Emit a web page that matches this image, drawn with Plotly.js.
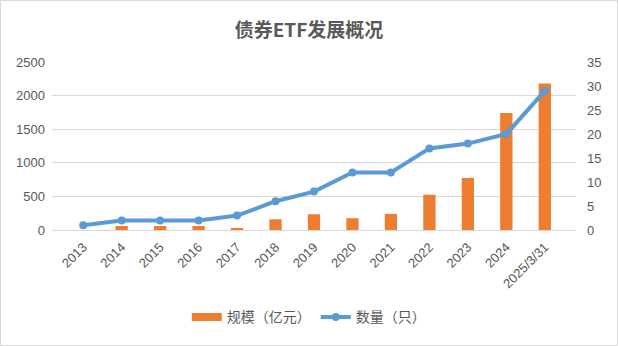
<!DOCTYPE html>
<html><head><meta charset="utf-8">
<script src="https://cdn.plot.ly/plotly-3.0.1.min.js"></script>
<style>
html,body{margin:0;padding:0;background:#fff;}
#wrap{position:absolute;left:0;top:0;width:616px;height:344px;border:1px solid #d9d9d9;}
#chart{width:616px;height:344px;}
</style></head>
<body><div id="wrap"><div id="chart"></div></div>
<script>
const categories = ["2013","2014","2015","2016","2017","2018","2019","2020","2021","2022","2023","2024","2025/3/31"];
const scale = [null,60,60,60,30,160,235,175,240,525,775,1740,2180];
const count = [1,2,2,2,3,6,8,12,12,17,18,20,29];
const titleText = "债券ETF发展概况";
const barName = "规模（亿元）";
const lineName = "数量（只）";

const fontFam = "Liberation Sans, Noto Sans CJK SC, sans-serif";
const traces = [
  {type:"bar", x:categories, y:scale, name:barName, marker:{color:"#ED7D31"}, yaxis:"y", showlegend:false},
  {type:"scatter", mode:"lines+markers", x:categories, y:count, name:lineName, yaxis:"y2",
   line:{color:"#5B9BD5", width:4}, marker:{color:"#5B9BD5", size:8}, showlegend:false},
  {type:"scatter", mode:"lines", x:[null], y:[null], name:barName, yaxis:"y",
   line:{color:"#ED7D31", width:8}, legendrank:1},
  {type:"scatter", mode:"lines+markers", x:[null], y:[null], name:lineName, yaxis:"y2",
   line:{color:"#5B9BD5", width:4}, marker:{color:"#5B9BD5", size:8}, legendrank:2}
];
const layout = {
  width:616, height:344,
  margin:{l:51, r:41, t:61, b:112},
  paper_bgcolor:"#fff", plot_bgcolor:"#fff",
  font:{family:fontFam, size:13, color:"#595959"},
  title:{text:titleText, x:0.5, xanchor:"center", y:0.915, yanchor:"middle",
    font:{family:"Noto Sans CJK SC, sans-serif", size:19, color:"#595959", weight:"bold"}},
  bargap:0.68,
  showlegend:true,
  legend:{orientation:"h", x:0.49, xanchor:"center", y:-0.52, yanchor:"middle", itemwidth:30,
    font:{family:"Noto Sans CJK SC, sans-serif", size:14, color:"#595959"}, traceorder:"normal"},
  xaxis:{type:"category", tickangle:-45, showgrid:false, showline:false, ticks:"", zeroline:false,
    ticklabelstandoff:6, tickfont:{size:13, color:"#595959"}},
  yaxis:{range:[0,2500], dtick:500, showgrid:true, gridcolor:"#d9d9d9", gridwidth:1,
    zeroline:true, zerolinecolor:"#d9d9d9", showline:false, ticks:"", ticklabelstandoff:6,
    tickfont:{size:13, color:"#595959"}},
  yaxis2:{range:[0,35], dtick:5, overlaying:"y", side:"right", showgrid:false, zeroline:false,
    showline:false, ticks:"", ticklabelstandoff:10, tickfont:{size:13, color:"#595959"}}
};
Plotly.newPlot("chart", traces, layout, {displayModeBar:false, staticPlot:true});
</script></body></html>
